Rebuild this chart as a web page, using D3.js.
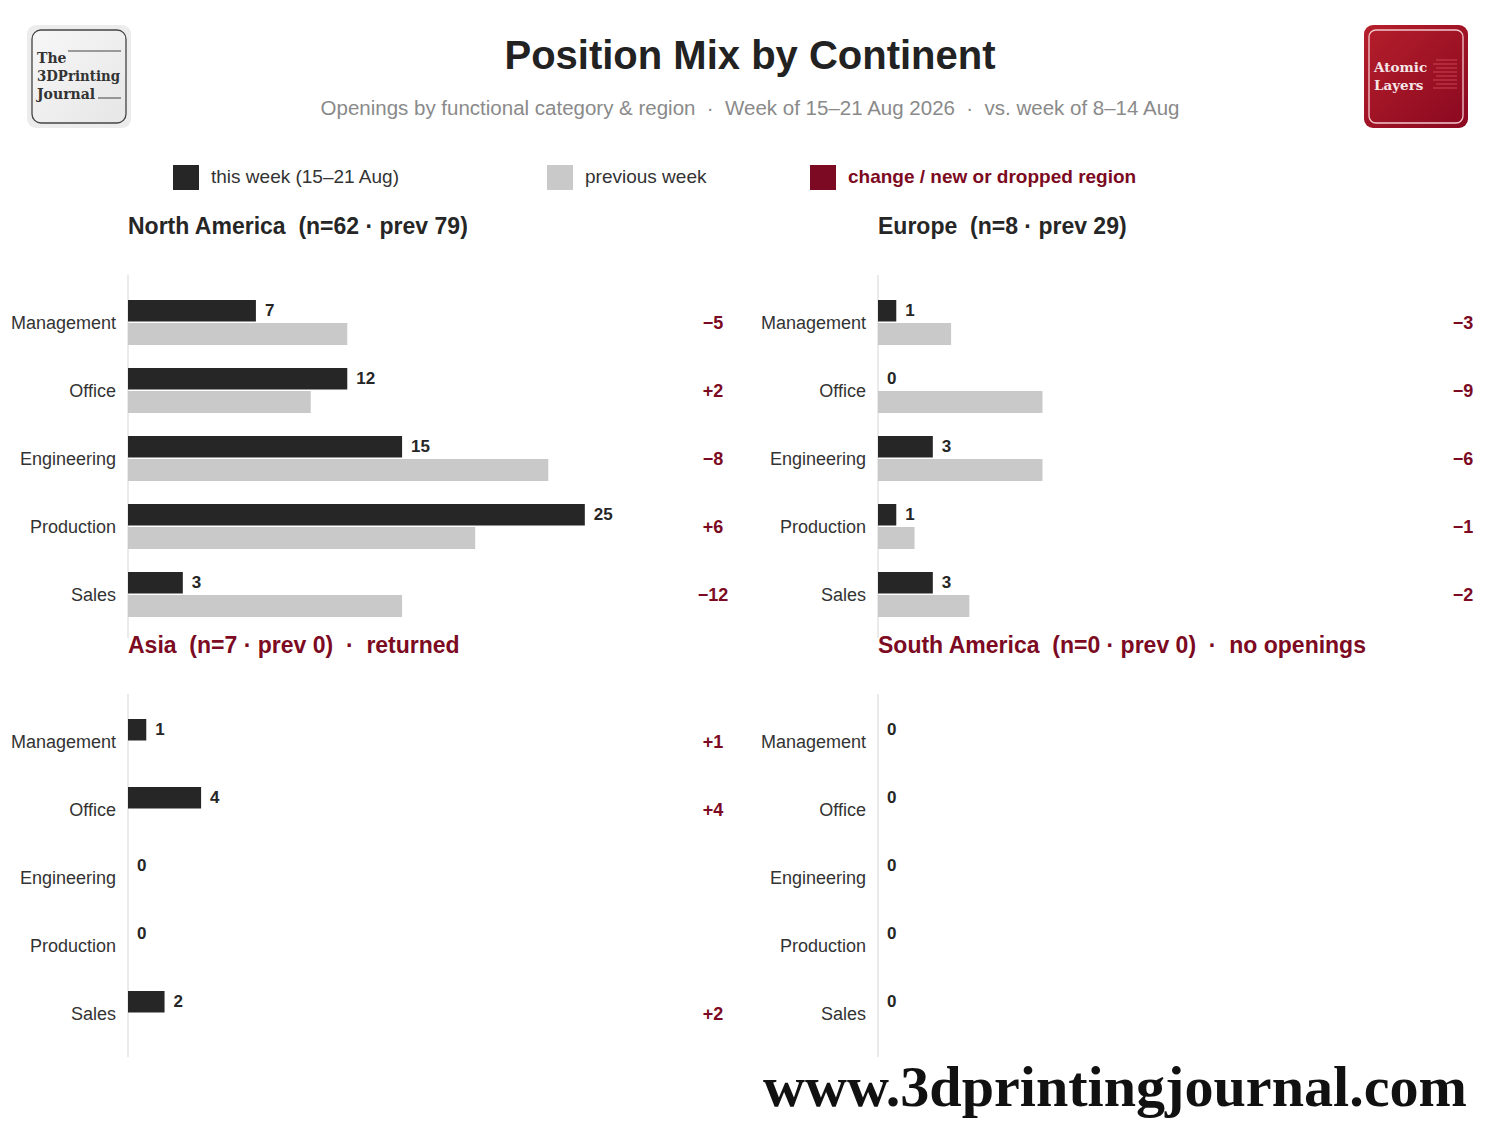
<!DOCTYPE html>
<html>
<head>
<meta charset="utf-8">
<script src="https://cdn.jsdelivr.net/npm/d3@7"></script>
<style>
  body { margin: 0; background: #fff; }
  svg { display: block; font-family: "Liberation Sans", Arial, sans-serif; }
  svg text { white-space: pre; }
</style>
</head>
<body>
<div class="js-vis"></div>
<script>
"use strict";

// Data
var categories = ["Management", "Office", "Engineering", "Production", "Sales"];
var regions = ["North America", "Europe", "Asia", "South America"];
var naThis = [7, 12, 15, 25, 3],  naPrev = [12, 10, 23, 19, 15];
var euThis = [1, 0, 3, 1, 3],     euPrev = [4, 9, 9, 2, 5];
var asThis = [1, 4, 0, 0, 2],     asPrev = [0, 0, 0, 0, 0];
var saThis = [0, 0, 0, 0, 0],     saPrev = [0, 0, 0, 0, 0];
var panelTitles = [
  "North America  (n=62 \u00b7 prev 79)",
  "Europe  (n=8 \u00b7 prev 29)",
  "Asia  (n=7 \u00b7 prev 0)  \u00b7  returned",
  "South America  (n=0 \u00b7 prev 0)  \u00b7  no openings"
];
var flagged = [false, false, true, true];
var legendLabels = ["this week (15\u201321 Aug)", "previous week", "change / new or dropped region"];

var W = 1500, H = 1131;
var cDark = "#262626", cGray = "#c9c9c9", cRed = "#7c0a22";

var svg = d3.select(".js-vis").append("svg").attr("width", W).attr("height", H);

// Title block
svg.append("text").attr("x", 750).attr("y", 58).attr("text-anchor", "middle")
  .attr("dominant-baseline", "middle").attr("font-size", 40).attr("font-weight", "bold")
  .attr("fill", "#222").text("Position Mix by Continent");
svg.append("text").attr("x", 750).attr("y", 110).attr("text-anchor", "middle")
  .attr("dominant-baseline", "middle").attr("font-size", 20.5).attr("fill", "#8a8a8a")
  .text("Openings by functional category & region  \u00b7  Week of 15\u201321 Aug 2026  \u00b7  vs. week of 8\u201314 Aug");

// Left logo
var defs = svg.append("defs");
var g1 = defs.append("linearGradient").attr("id", "lg1").attr("x1", 0).attr("y1", 0).attr("x2", 1).attr("y2", 1);
g1.append("stop").attr("offset", "0%").attr("stop-color", "#f7f7f7");
g1.append("stop").attr("offset", "100%").attr("stop-color", "#e6e6e6");
var g2 = defs.append("linearGradient").attr("id", "lg2").attr("x1", 0).attr("y1", 0).attr("x2", 1).attr("y2", 1);
g2.append("stop").attr("offset", "0%").attr("stop-color", "#b51f2b");
g2.append("stop").attr("offset", "100%").attr("stop-color", "#8a0820");

var ll = svg.append("g");
ll.append("rect").attr("x", 27).attr("y", 25).attr("width", 104).attr("height", 103).attr("rx", 9).attr("fill", "#ececec");
ll.append("rect").attr("x", 32).attr("y", 30).attr("width", 94).attr("height", 93).attr("rx", 9)
  .attr("fill", "url(#lg1)").attr("stroke", "#444").attr("stroke-width", 1.3);
[["The", 63], ["3DPrinting", 81], ["Journal", 99]].forEach(function (t) {
  ll.append("text").attr("x", 37).attr("y", t[1]).attr("font-family", "'DejaVu Serif', serif")
    .attr("font-weight", "bold").attr("font-size", 14).attr("fill", "#333")
    .attr("textLength", t[0] === "3DPrinting" ? 83 : null).attr("lengthAdjust", "spacingAndGlyphs").text(t[0]);
});
ll.append("line").attr("x1", 68).attr("x2", 121).attr("y1", 51).attr("y2", 51).attr("stroke", "#444");
ll.append("line").attr("x1", 98).attr("x2", 121).attr("y1", 98).attr("y2", 98).attr("stroke", "#444");

// Right logo
var rl = svg.append("g");
rl.append("rect").attr("x", 1364).attr("y", 25).attr("width", 104).attr("height", 103).attr("rx", 9).attr("fill", "url(#lg2)");
rl.append("rect").attr("x", 1369).attr("y", 30).attr("width", 94).attr("height", 93).attr("rx", 7)
  .attr("fill", "none").attr("stroke", "#f3c6cb").attr("stroke-width", 1.3);
[["Atomic", 72], ["Layers", 90]].forEach(function (t) {
  rl.append("text").attr("x", 1374).attr("y", t[1]).attr("font-family", "'DejaVu Serif', serif")
    .attr("font-weight", "bold").attr("font-size", 13.5).attr("fill", "#f6e6e8").text(t[0]);
});
d3.range(8).forEach(function (i) {
  rl.append("line").attr("x1", i % 2 ? 1433 : 1436).attr("x2", 1457)
    .attr("y1", 60 + i * 4).attr("y2", 60 + i * 4).attr("stroke", "#d8505e").attr("stroke-width", 0.8);
});

// Legend
var legend = [
  { x: 173, tx: 211, fill: cDark, col: "#333", bold: false },
  { x: 547, tx: 585, fill: cGray, col: "#333", bold: false },
  { x: 810, tx: 848, fill: cRed, col: cRed, bold: true }
];
legend.forEach(function (d, i) {
  svg.append("rect").attr("x", d.x).attr("y", 165).attr("width", 26).attr("height", 25).attr("fill", d.fill);
  svg.append("text").attr("x", d.tx).attr("y", 178).attr("dominant-baseline", "middle")
    .attr("font-size", 19).attr("font-weight", d.bold ? "bold" : "normal").attr("fill", d.col)
    .text(legendLabels[i]);
});

// Panels
var thisData = [naThis, euThis, asThis, saThis];
var prevData = [naPrev, euPrev, asPrev, saPrev];
var panelX = [128, 878, 128, 878];
var panelTop = [288, 288, 707, 707];
var titleY = [228, 228, 647, 647];

var x = d3.scaleLinear().domain([0, 33]).range([0, 603]);
var fmt = function (v) { return (v > 0 ? "+" : "\u2212") + Math.abs(v); };

regions.forEach(function (r, p) {
  var y = d3.scaleBand().domain(categories).range([panelTop[p], panelTop[p] + 340]);
  var g = svg.append("g").attr("transform", "translate(" + panelX[p] + ",0)");

  g.append("text").attr("x", 0).attr("y", titleY[p]).attr("dominant-baseline", "middle")
    .attr("font-size", 23).attr("font-weight", "bold").attr("fill", flagged[p] ? cRed : "#262626")
    .text(panelTitles[p]);

  g.append("line").attr("x1", 0).attr("x2", 0).attr("y1", panelTop[p] - 13).attr("y2", panelTop[p] + 350)
    .attr("stroke", "#dcdcdc").attr("stroke-width", 1.2);

  var rows = categories.map(function (c, i) {
    return { cat: c, cur: thisData[p][i], prev: prevData[p][i] };
  });
  var cy = function (d) { return y(d.cat) + y.bandwidth() / 2; };

  g.selectAll(".cat").data(rows).enter().append("text")
    .attr("x", -12).attr("y", function (d) { return cy(d) + 2; })
    .attr("text-anchor", "end").attr("dominant-baseline", "middle")
    .attr("font-size", 18).attr("fill", "#333").text(function (d) { return d.cat; });

  g.selectAll(".prev").data(rows.filter(function (d) { return d.prev > 0; })).enter().append("rect")
    .attr("x", 0).attr("y", function (d) { return cy(d) + 1; })
    .attr("width", function (d) { return x(d.prev); }).attr("height", 22).attr("fill", cGray);

  g.selectAll(".cur").data(rows.filter(function (d) { return d.cur > 0; })).enter().append("rect")
    .attr("x", 0).attr("y", function (d) { return cy(d) - 22; })
    .attr("width", function (d) { return x(d.cur); }).attr("height", 21.5).attr("fill", cDark);

  g.selectAll(".val").data(rows).enter().append("text")
    .attr("x", function (d) { return x(d.cur) + 9; }).attr("y", function (d) { return cy(d) - 10; })
    .attr("dominant-baseline", "middle").attr("font-size", 17).attr("font-weight", "bold")
    .attr("fill", "#262626").text(function (d) { return d.cur; });

  g.selectAll(".delta").data(rows.filter(function (d) { return d.cur - d.prev !== 0; })).enter().append("text")
    .attr("x", 585).attr("y", function (d) { return cy(d) + 2; })
    .attr("text-anchor", "middle").attr("dominant-baseline", "middle")
    .attr("font-size", 18).attr("font-weight", "bold").attr("fill", cRed)
    .text(function (d) { return fmt(d.cur - d.prev); });
});

// Watermark
svg.append("text").attr("x", 1467).attr("y", 1106).attr("text-anchor", "end")
  .attr("font-family", "'Liberation Serif', 'DejaVu Serif', serif").attr("font-weight", "bold")
  .attr("font-size", 56).attr("fill", "#111")
  .attr("textLength", 704).attr("lengthAdjust", "spacingAndGlyphs")
  .text("www.3dprintingjournal.com");
</script>
</body>
</html>
